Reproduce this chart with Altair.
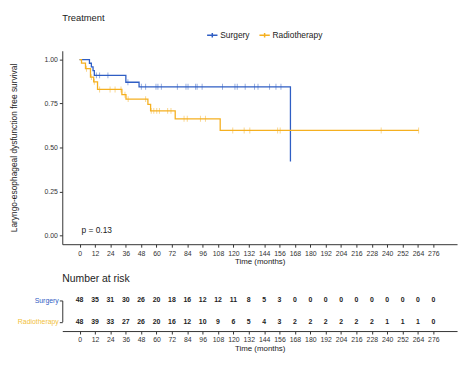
import altair as alt
import pandas as pd

# ---- data ----
groups = ["Surgery", "Radiotherapy"]

surg_t = [0, 7.7, 9.2, 10.5, 11.5, 36.1, 46.4, 164.5]
surg_s = [1.0, 0.979, 0.958, 0.9375, 0.91, 0.871, 0.845, 0.42]

rad_t = [0, 1.5, 4.6, 8.5, 11, 14, 33, 36.2, 53.3, 55.4, 74.6, 109.7, 264.5]
rad_s = [1.0, 0.98, 0.948, 0.90, 0.873, 0.83, 0.80, 0.775, 0.745, 0.708, 0.663, 0.597, 0.597]

surg_cens = [13.1, 15.6, 22.1, 37.7, 48.2, 51.5, 59.6, 61.1, 63.8, 76.3, 83, 84.6,
             90.5, 91.7, 95.6, 111.5, 121.2, 123, 129.2, 136.5, 139.2, 148.2, 153.2, 157.1]
rad_cens = [5.4, 9.2, 11.5, 15.6, 23.8, 27.7, 32.3, 35.4, 37.9, 51.5, 55.9, 57.9, 60.2,
            62.3, 68.7, 71.3, 81.5, 84, 94.3, 98.2, 119.5, 128.4, 132.8, 154.5, 156.5,
            235.3, 264.5]

risk_times = list(range(0, 277, 12))
surg_risk = [48, 35, 31, 30, 26, 20, 18, 16, 12, 12, 11, 8, 5, 3, 0, 0, 0, 0, 0, 0, 0, 0, 0, 0]
rad_risk = [48, 39, 33, 27, 26, 20, 16, 12, 10, 9, 6, 5, 4, 3, 2, 2, 2, 2, 2, 2, 1, 1, 1, 0]

p_label = ["p = 0.13"]

# ---- tables ----
def step_value(ts, ss, c):
    v = ss[0]
    for t, s in zip(ts, ss):
        if t <= c:
            v = s
    return v

curve = pd.DataFrame(
    [{"time": t, "surv": s, "group": "Surgery"} for t, s in zip(surg_t, surg_s)]
    + [{"time": t, "surv": s, "group": "Radiotherapy"} for t, s in zip(rad_t, rad_s)]
)
cens = pd.DataFrame(
    [{"time": c, "surv": step_value(surg_t, surg_s, c), "group": "Surgery"} for c in surg_cens]
    + [{"time": c, "surv": step_value(rad_t, rad_s, c), "group": "Radiotherapy"} for c in rad_cens]
)
risk = pd.DataFrame(
    [{"time": t, "n": n, "group": "Surgery"} for t, n in zip(risk_times, surg_risk)]
    + [{"time": t, "n": n, "group": "Radiotherapy"} for t, n in zip(risk_times, rad_risk)]
)
ptab = pd.DataFrame({"time": [1.5], "surv": [0.028], "label": p_label})

BLUE = "#2F5EC4"
ORANGE = "#F5B020"
FONT = "Liberation Sans"

xscale = alt.Scale(domain=[-13.5, 294.5], nice=False, zero=False)
yscale = alt.Scale(domain=[-0.05, 1.05], nice=False, zero=False)
cscale = alt.Scale(domain=groups, range=[BLUE, ORANGE])

def make_xaxis():
    return alt.Axis(values=risk_times, format="d", title="Time (months)", grid=False,
                    labelFontSize=7, titleFontSize=8, tickSize=3, labelPadding=2,
                    titlePadding=2, labelColor="#333", titleColor="#222",
                    domainColor="#333", tickColor="#333", titleFontWeight="normal",
                    labelFlush=False, labelOverlap=False)

def make_yaxis():
    return alt.Axis(values=[0, 0.25, 0.5, 0.75, 1.0], format=".2f",
                    title="Laryngo-esophageal dysfunction free survival",
                    grid=False, labelFontSize=7, titleFontSize=8.5, tickSize=3,
                    labelPadding=2, titlePadding=26, labelColor="#333",
                    titleColor="#222", domainColor="#333", tickColor="#333",
                    titleFontWeight="normal", labelOverlap=False)

lines = alt.Chart(curve).mark_line(interpolate="step-after", strokeWidth=1.3).encode(
    x=alt.X("time:Q", scale=xscale, axis=make_xaxis()),
    y=alt.Y("surv:Q", scale=yscale, axis=make_yaxis()),
    color=alt.Color("group:N", scale=cscale, sort=groups,
                    legend=alt.Legend(title=None, orient="none", legendX=146, legendY=-22,
                                      direction="horizontal", labelFontSize=8.5,
                                      labelColor="#222", columnPadding=6, labelOffset=2,
                                      symbolType="M-1,0H1M0,-0.45V0.45", symbolSize=110,
                                      symbolStrokeWidth=1.5)),
)

ticks = alt.Chart(cens).mark_tick(orient="vertical", size=6, thickness=1, opacity=0.5).encode(
    x=alt.X("time:Q", scale=xscale, axis=make_xaxis()),
    y=alt.Y("surv:Q", scale=yscale, axis=make_yaxis()),
    color=alt.Color("group:N", scale=cscale, sort=groups, legend=None),
)

ptext = alt.Chart(ptab).mark_text(align="left", baseline="middle", fontSize=8.5, color="#222").encode(
    x=alt.X("time:Q", scale=xscale, axis=make_xaxis()),
    y=alt.Y("surv:Q", scale=yscale, axis=make_yaxis()),
    text="label:N",
)

top = alt.layer(lines, ticks, ptext).properties(
    width=400, height=196,
    title=alt.TitleParams("Treatment", anchor="start", frame="group", fontSize=9.5,
                          fontWeight="normal", color="#222", offset=29),
)

risk_chart = alt.Chart(risk).mark_text(fontSize=7, color="#222", fontWeight="bold").encode(
    x=alt.X("time:Q", scale=xscale, axis=make_xaxis()),
    y=alt.Y("group:N", sort=groups, scale=alt.Scale(range=[18, 39.5], padding=0),
            axis=alt.Axis(title=None, labelFontSize=7, tickSize=3, labelPadding=1,
                          domainColor="#333", tickColor="#333",
                          labelColor=alt.ExprRef(f"datum.value == 'Surgery' ? '{BLUE}' : '#F2BF3A'"))),
    text="n:Q",
).properties(
    width=400, height=49,
    title=alt.TitleParams("Number at risk", anchor="start", frame="group", fontSize=10.5,
                          fontWeight="normal", color="#222", offset=-2),
)

chart = alt.vconcat(top, risk_chart, spacing=8).properties(
    padding={"left": 1, "top": 2, "right": 5, "bottom": 5}
).configure(font=FONT).configure_view(strokeWidth=0)

chart.save("out.html", embed_options={"renderer": "svg", "actions": False})
